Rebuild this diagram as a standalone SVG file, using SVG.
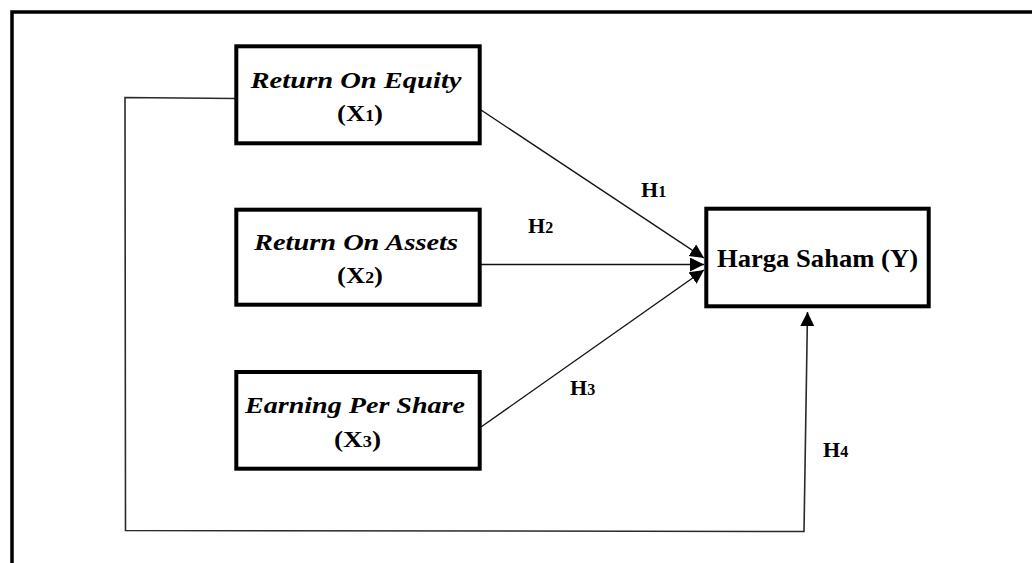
<svg xmlns="http://www.w3.org/2000/svg" width="1032" height="563" viewBox="0 0 1032 563">
  <style>
    .box { fill: #ffffff; stroke: #000000; stroke-width: 4; }
    .frame { fill: none; stroke: #000000; stroke-width: 3.5; }
    .conn { fill: none; stroke: #111111; stroke-width: 1.4; }
    .fb { fill: none; stroke: #2a2a2a; stroke-width: 1.6; }
    .t { font-family: "Liberation Serif", "Times New Roman", serif; font-weight: bold; fill: #000000; }
    .it { font-style: italic; font-size: 24px; }
    .x { font-size: 24px; }
    .sub { font-size: 16px; }
    .h { font-size: 22px; }
  </style>
  <defs>
    <marker id="arrow" markerUnits="userSpaceOnUse" markerWidth="15" markerHeight="15" refX="14" refY="7" orient="auto">
      <path d="M0,0 L14,7 L0,14 z" fill="#000000"/>
    </marker>
  </defs>

  <rect x="0" y="0" width="1032" height="563" fill="#ffffff"/>
  <rect class="frame" x="12" y="12" width="1060" height="600"/>

  <g id="connectors">
    <line class="conn" x1="481" y1="110" x2="704" y2="258" marker-end="url(#arrow)"/>
    <line class="conn" x1="481" y1="264.5" x2="704" y2="264.5" marker-end="url(#arrow)"/>
    <line class="conn" x1="481" y1="427" x2="704" y2="270" marker-end="url(#arrow)"/>
    <polyline class="fb" points="235,98.5 125,97.5 125.5,530.5 804,531.5 807.5,312" marker-end="url(#arrow)"/>
  </g>

  <g id="labels">
    <text class="t h" x="641" y="197">H<tspan class="sub">1</tspan></text>
    <text class="t h" x="528" y="233">H<tspan class="sub">2</tspan></text>
    <text class="t h" x="570" y="395">H<tspan class="sub">3</tspan></text>
    <text class="t h" x="823" y="457">H<tspan class="sub">4</tspan></text>
  </g>

  <g id="roe">
    <rect class="box" x="236.3" y="46.3" width="243.4" height="97"/>
    <text class="t it" x="356" y="88" text-anchor="middle" textLength="211" lengthAdjust="spacingAndGlyphs">Return On Equity</text>
    <text class="t x" x="360" y="121" text-anchor="middle" textLength="46" lengthAdjust="spacingAndGlyphs">(X<tspan class="sub">1</tspan>)</text>
  </g>

  <g id="roa">
    <rect class="box" x="236.3" y="209.7" width="243.4" height="95"/>
    <text class="t it" x="356" y="250" text-anchor="middle" textLength="204" lengthAdjust="spacingAndGlyphs">Return On Assets</text>
    <text class="t x" x="360" y="283" text-anchor="middle" textLength="46" lengthAdjust="spacingAndGlyphs">(X<tspan class="sub">2</tspan>)</text>
  </g>

  <g id="eps">
    <rect class="box" x="236.3" y="372" width="243.4" height="96.7"/>
    <text class="t it" x="355" y="412.5" text-anchor="middle" textLength="220" lengthAdjust="spacingAndGlyphs">Earning Per Share</text>
    <text class="t x" x="357.5" y="446.5" text-anchor="middle" textLength="47" lengthAdjust="spacingAndGlyphs">(X<tspan class="sub">3</tspan>)</text>
  </g>

  <g id="harga">
    <rect class="box" x="706.3" y="208.7" width="222.4" height="97.6"/>
    <text class="t" x="817.5" y="267" font-size="25" text-anchor="middle" textLength="201" lengthAdjust="spacingAndGlyphs">Harga Saham (Y)</text>
  </g>
</svg>
